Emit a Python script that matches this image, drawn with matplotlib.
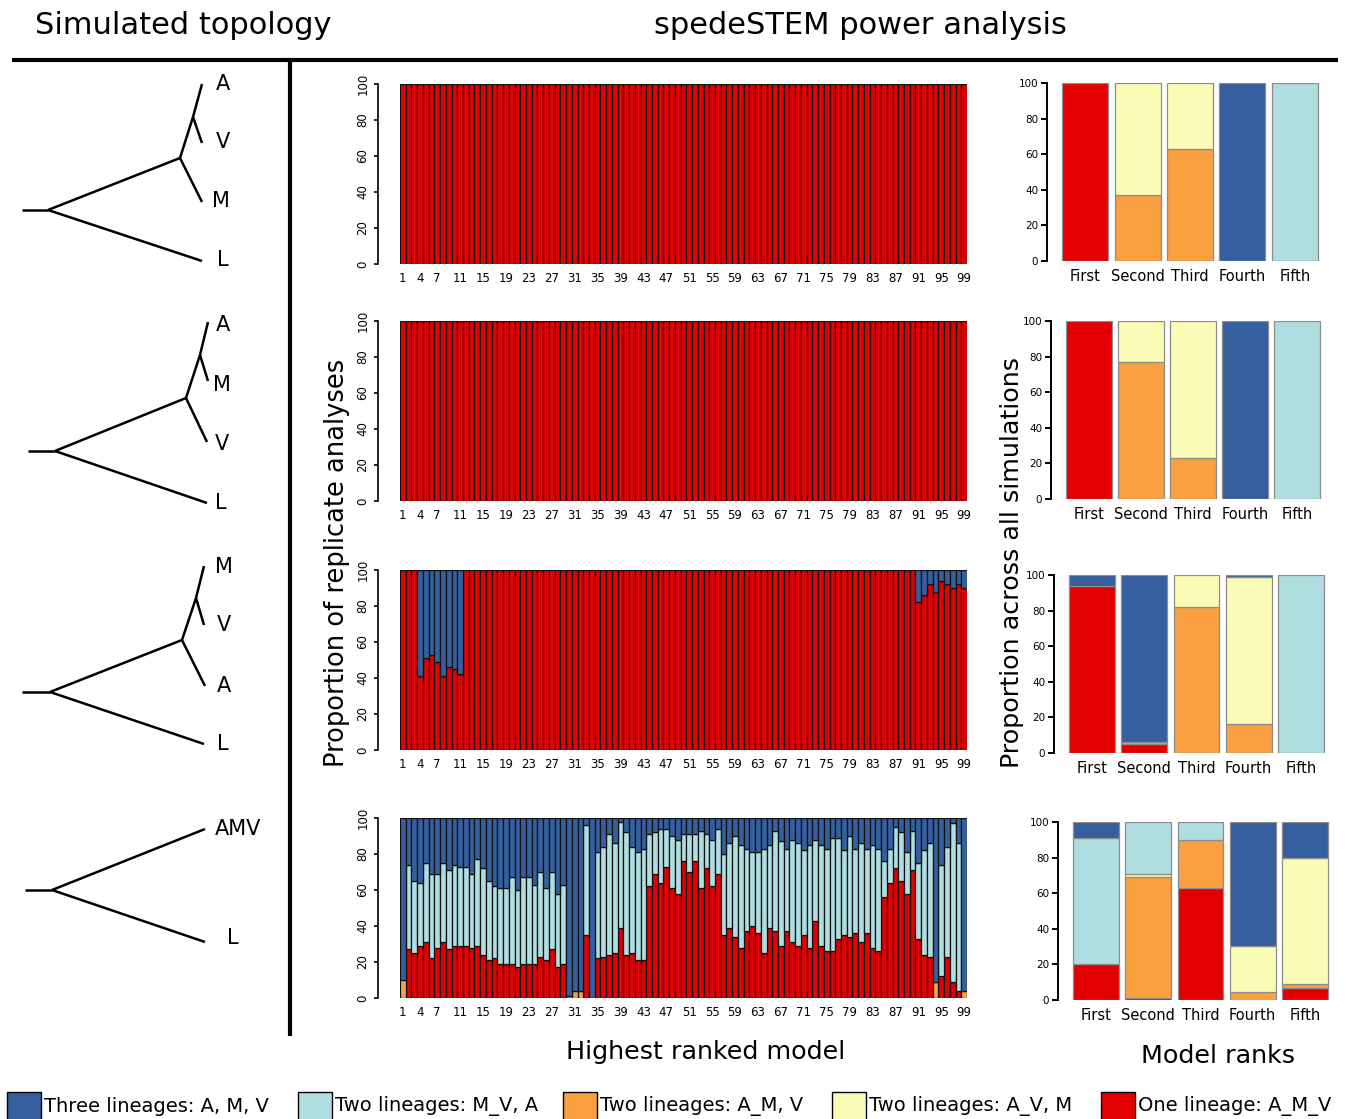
import numpy as np
import matplotlib
matplotlib.use('Agg')
import matplotlib.pyplot as plt
from matplotlib.patches import Rectangle

W, H = 1360, 1119

# colours, bottom -> top stacking order
RED = '#E30000'
ORANGE = '#FBA040'
YELLOW = '#FAFBB4'
LBLUE = '#B0DDDF'
BLUE = '#355F9F'
STACK_COLORS = [RED, ORANGE, YELLOW, LBLUE, BLUE]

legend_labels = ['Three lineages: A, M, V', 'Two lineages: M_V, A', 'Two lineages: A_M, V',
                 'Two lineages: A_V, M', 'One lineage: A_M_V']
legend_colors = [BLUE, LBLUE, ORANGE, YELLOW, RED]

models = np.arange(1, 100)
shown_ticks = [1, 4, 7, 11, 15, 19, 23, 27, 31, 35, 39, 43, 47, 51, 55, 59, 63, 67, 71,
               75, 79, 83, 87, 91, 95, 99]

# ---- highest ranked model, per replicate model (percent) ----
row1_red = [100] * 99
row2_red = [100] * 99

row3_red = [100, 100, 100, 41, 51, 53, 49, 41, 46, 45, 42] + [100] * 79 + \
           [82, 86, 92, 88, 94, 92, 90, 92, 90]
row3_blue = [0, 0, 0, 59, 49, 47, 51, 59, 54, 55, 58] + [0] * 79 + \
            [18, 14, 8, 12, 6, 8, 10, 8, 10]

row4_orange = [10] + [0] * 28 + [1, 4, 4] + [0] * 61 + [9, 0, 0, 0, 0, 4]
row4_red = [0, 27, 25, 29, 31, 22, 28, 31, 27, 29, 29, 29, 28, 29, 24, 21, 22, 19, 19, 19,
            17, 19, 19, 19, 23, 21, 27, 17, 19, 0, 0, 0, 35, 0,
            22, 23, 24, 25, 39, 24, 25, 21, 21, 62, 69, 64, 73, 61, 58, 76, 70, 76, 61, 72,
            62, 69, 35, 39, 34, 28, 37, 40, 36, 25, 39, 37,
            29, 37, 31, 29, 35, 28, 43, 29, 26, 26, 33, 35, 34, 36, 31, 36, 28, 26, 56, 64,
            72, 65, 58, 71, 33, 24, 23, 0, 12, 23, 9, 4, 0]
row4_lblue = [0, 47, 40, 35, 44, 47, 41, 44, 44, 45, 44, 44, 41, 48, 48, 44, 40, 42, 42, 48,
              43, 48, 48, 44, 47, 40, 43, 41, 44, 0, 0, 0, 61, 0,
              59, 61, 67, 61, 59, 68, 59, 60, 62, 29, 23, 30, 21, 29, 30, 15, 21, 15, 32, 19,
              26, 25, 45, 47, 56, 57, 46, 41, 45, 58, 46, 56,
              58, 46, 57, 57, 47, 57, 45, 56, 57, 63, 56, 47, 56, 47, 55, 47, 57, 57, 20, 19,
              23, 27, 23, 22, 42, 58, 63, 0, 62, 61, 88, 82, 0]
row4_blue = [90, 26, 35, 36, 25, 31, 31, 25, 29, 26, 27, 27, 31, 23, 28, 35, 38, 39, 39, 33,
             40, 33, 33, 37, 30, 39, 30, 42, 37, 99, 96, 96, 4, 100,
             19, 16, 9, 14, 2, 8, 16, 19, 17, 9, 8, 6, 6, 10, 12, 9, 9, 9, 7, 9,
             12, 6, 20, 14, 10, 15, 17, 19, 19, 17, 15, 7,
             13, 17, 12, 14, 18, 15, 12, 15, 17, 11, 11, 18, 10, 17, 14, 17, 15, 17, 24, 17,
             5, 8, 19, 7, 25, 18, 14, 91, 26, 16, 3, 14, 96]

main_rows = [
    [row1_red, [0] * 99, [0] * 99, [0] * 99, [0] * 99],
    [row2_red, [0] * 99, [0] * 99, [0] * 99, [0] * 99],
    [row3_red, [0] * 99, [0] * 99, [0] * 99, row3_blue],
    [row4_red, row4_orange, [0] * 99, row4_lblue, row4_blue],
]

# ---- model ranks across all simulations (percent) ----
ranks = ['First', 'Second', 'Third', 'Fourth', 'Fifth']
rank_rows = [
    # red, orange, yellow, light blue, blue
    [[100, 0, 0, 0, 0], [0, 37, 63, 0, 0], [0, 63, 37, 0, 0], [0, 0, 0, 0, 100], [0, 0, 0, 100, 0]],
    [[100, 0, 0, 0, 0], [0, 77, 23, 0, 0], [0, 23, 77, 0, 0], [0, 0, 0, 0, 100], [0, 0, 0, 100, 0]],
    [[94, 0, 0, 0, 6], [5, 1, 0, 0, 94], [0, 82, 18, 0, 0], [0, 16.5, 82.5, 0, 1], [0, 0, 0, 100, 0]],
    [[20, 0, 0, 71, 9], [1, 68, 2, 29, 0], [63, 27, 0, 10, 0], [0, 4.5, 26, 0, 69.5], [7, 2, 71, 0, 20]],
]

# trees: stub start, root, inner node, inner-inner node, tips, labels, label positions
trees = [
    dict(stub=(22, 210), root=(48, 210), n1=(180, 158), n2=(193, 117),
         tips=[(202, 84), (202, 143), (202, 202), (202, 261)], labels=['A', 'V', 'M', 'L'],
         lab=[(223, 84), (223, 142), (221, 201), (223, 260)]),
    dict(stub=(28, 451), root=(55, 451), n1=(186, 398), n2=(200, 355),
         tips=[(208, 322), (208, 381), (207, 442), (207, 503)], labels=['A', 'M', 'V', 'L'],
         lab=[(223, 325), (222, 385), (222, 444), (221, 503)]),
    dict(stub=(22, 692), root=(50, 692), n1=(182, 640), n2=(196, 598),
         tips=[(204, 566), (204, 625), (205, 686), (204, 744)], labels=['M', 'V', 'A', 'L'],
         lab=[(224, 567), (224, 625), (224, 686), (223, 744)]),
    dict(stub=(25, 890), root=(52, 890), n1=None, n2=None,
         tips=[(205, 829), (205, 942)], labels=['AMV', 'L'],
         lab=[(238, 829), (233, 938)]),
]

main_tb = [(84, 264), (321, 501), (570, 750), (818, 998)]
rank_box = [(1059, 83, 1321, 261), (1063, 321, 1323, 499), (1066, 575, 1327, 753),
            (1070, 822, 1331, 1000)]


def box(l, t, r, b):
    return [l / W, 1 - b / H, (r - l) / W, (b - t) / H]


def stacked(ax, x, layers, width, edge, lw):
    bottom = np.zeros(len(x))
    for vals, c in zip(layers, STACK_COLORS):
        vals = np.asarray(vals, float)
        m = vals > 0
        if m.any():
            ax.bar(np.asarray(x)[m], vals[m], width, bottom=bottom[m], color=c,
                   edgecolor=edge, linewidth=lw)
        bottom += vals


fig = plt.figure(figsize=(W / 100, H / 100), dpi=100)

# overlay for titles, trees, separators and legend (pixel coordinates)
ov = fig.add_axes([0, 0, 1, 1])
ov.set_xlim(0, W)
ov.set_ylim(H, 0)
ov.axis('off')

ov.text(183, 25, 'Simulated topology', fontsize=22, ha='center', va='center')
ov.text(860, 25, 'spedeSTEM power analysis', fontsize=22, ha='center', va='center')
ov.plot([12, 1338], [60, 60], color='black', lw=3, solid_capstyle='butt')
ov.plot([290, 290], [60, 1036], color='black', lw=3, solid_capstyle='butt')

for t in trees:
    seg = [(t['stub'], t['root'])]
    if t['n1'] is None:
        seg += [(t['root'], t['tips'][0]), (t['root'], t['tips'][1])]
    else:
        seg += [(t['root'], t['n1']), (t['root'], t['tips'][3]),
                (t['n1'], t['n2']), (t['n1'], t['tips'][2]),
                (t['n2'], t['tips'][0]), (t['n2'], t['tips'][1])]
    for (x0, y0), (x1, y1) in seg:
        ov.plot([x0, x1], [y0, y1], color='black', lw=1.8, solid_capstyle='butt')
    for name, (lx, ly) in zip(t['labels'], t['lab']):
        ov.text(lx, ly, name, fontsize=15, ha='center', va='center')

ov.text(337, 563, 'Proportion of replicate analyses', fontsize=18.5, rotation=90,
        ha='center', va='center')
ov.text(706, 1052, 'Highest ranked model', fontsize=18.3, ha='center', va='center')
ov.text(1012, 562, 'Proportion across all simulations', fontsize=18.3, rotation=90,
        ha='center', va='center')
ov.text(1218, 1056, 'Model ranks', fontsize=18.3, ha='center', va='center')

# legend along the bottom
leg_x = [7, 298, 563, 832, 1101]
for x0, lab, c in zip(leg_x, legend_labels, legend_colors):
    ov.add_patch(Rectangle((x0, 1092), 34, 30, facecolor=c, edgecolor='black', lw=1,
                           clip_on=False))
    ov.text(x0 + 37, 1106, lab, fontsize=14, ha='left', va='center')

# main panels
for (top, bot), layers in zip(main_tb, main_rows):
    ax = fig.add_axes(box(400, top, 967, bot))
    stacked(ax, models, layers, 1.0, '#111111', 0.9)
    ax.set_xlim(0.5, 99.5)
    ax.set_ylim(0, 100)
    for s in ['top', 'right', 'bottom']:
        ax.spines[s].set_visible(False)
    ax.spines['left'].set_position(('outward', 16))
    ax.spines['left'].set_linewidth(1.2)
    ax.set_yticks(range(0, 101, 20))
    ax.tick_params(axis='y', length=3, width=1.2, labelsize=8.5, pad=3)
    for lab in ax.get_yticklabels():
        lab.set_rotation(90)
        lab.set_va('center')
    ax.set_xticks(shown_ticks)
    ax.set_xticklabels([str(v) for v in shown_ticks])
    ax.tick_params(axis='x', length=0, labelsize=8.5, pad=6)

# rank panels
for (l, t, r, b), rows in zip(rank_box, rank_rows):
    ax = fig.add_axes(box(l, t, r, b))
    layers = list(zip(*rows))
    stacked(ax, np.arange(5), layers, 0.88, '#8C8C8C', 0.9)
    ax.set_xlim(-0.5, 4.5)
    ax.set_ylim(0, 100)
    for s in ['top', 'right', 'bottom']:
        ax.spines[s].set_visible(False)
    ax.spines['left'].set_position(('outward', 9))
    ax.spines['left'].set_linewidth(1.4)
    ax.set_yticks(range(0, 101, 20))
    ax.tick_params(axis='y', length=4, width=1.4, labelsize=7.5, pad=2)
    ax.set_xticks(np.arange(5))
    ax.set_xticklabels(ranks)
    ax.tick_params(axis='x', length=0, labelsize=10.5, pad=6)

fig.savefig('out.png', dpi=100)
